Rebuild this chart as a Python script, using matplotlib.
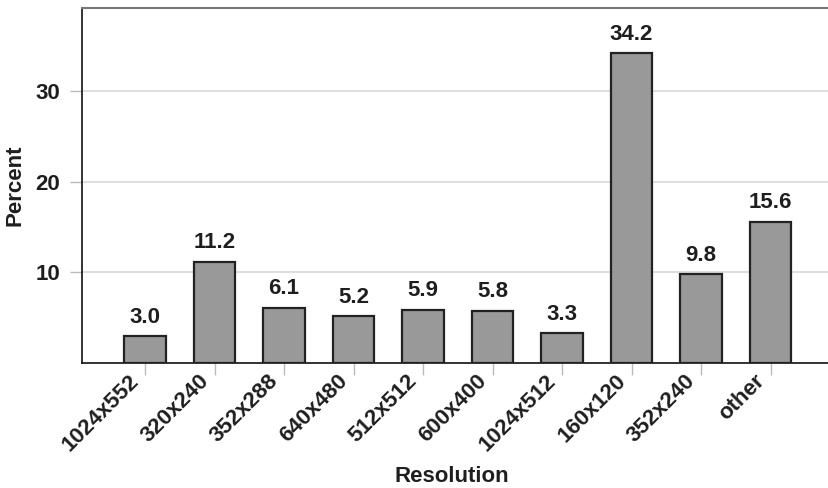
import matplotlib
matplotlib.use("Agg")
import matplotlib.pyplot as plt
from matplotlib.transforms import ScaledTranslation

resolutions = ["1024x552", "320x240", "352x288", "640x480", "512x512",
               "600x400", "1024x512", "160x120", "352x240", "other"]
percent = [3.0, 11.2, 6.1, 5.2, 5.9, 5.8, 3.3, 34.2, 9.8, 15.6]
y_ticks = [10, 20, 30]

plt.rcParams['font.family'] = ['Liberation Sans', 'DejaVu Sans']
plt.rcParams['font.weight'] = 'bold'
FS = 16
TXT = '#1e1e1e'

fig = plt.figure(figsize=(8.29, 4.88), dpi=100)
ax = fig.add_axes([0.099, 0.256, 0.901, 0.728])

x = list(range(len(resolutions)))
bars = ax.bar(x, percent, width=0.6, color='#999999', edgecolor='#222222',
              linewidth=1.6, zorder=3)

# value labels above each bar
for xi, v in zip(x, percent):
    ax.annotate(f'{v:.1f}', (xi, v), xytext=(0, 6), textcoords='offset points',
                ha='center', va='bottom', fontsize=FS, fontweight='bold',
                color=TXT)

ax.set_xlim(-0.906, 9.84)
ax.set_ylim(0, 39.2)
ax.set_yticks(y_ticks)
ax.set_yticklabels([str(t) for t in y_ticks], fontsize=FS, fontweight='bold',
                   color=TXT)
ax.set_xticks(x)
ax.set_xticklabels(resolutions, rotation=45, ha='right', va='center',
                   rotation_mode='anchor', fontsize=FS, fontweight='bold',
                   color=TXT)
ax.tick_params(axis='both', length=8.6, width=1, color='#bbbbbb')
ax.tick_params(axis='y', pad=7)
ax.tick_params(axis='x', pad=2)

# nudge the slanted category labels so they end just left of their tick
shift = ScaledTranslation(-0.09, 0.0, fig.dpi_scale_trans)
for lbl in ax.get_xticklabels():
    lbl.set_transform(lbl.get_transform() + shift)

ax.grid(True, axis='y', color='#d8d8d8', linewidth=1.2, zorder=0)
ax.set_axisbelow(True)

ax.spines['right'].set_visible(False)
ax.spines['top'].set_color('#777777')
ax.spines['top'].set_linewidth(1.5)
ax.spines['left'].set_color('#111111')
ax.spines['left'].set_linewidth(1.2)
ax.spines['bottom'].set_color('#111111')
ax.spines['bottom'].set_linewidth(1.2)

ax.set_xlabel('Resolution', fontsize=FS, fontweight='bold', color=TXT)
ax.set_ylabel('Percent', fontsize=FS, fontweight='bold', color=TXT)
ax.xaxis.set_label_coords(0.495, -0.29)
ax.yaxis.set_label_coords(-0.076, 0.5)

fig.savefig('out.png', dpi=100)
